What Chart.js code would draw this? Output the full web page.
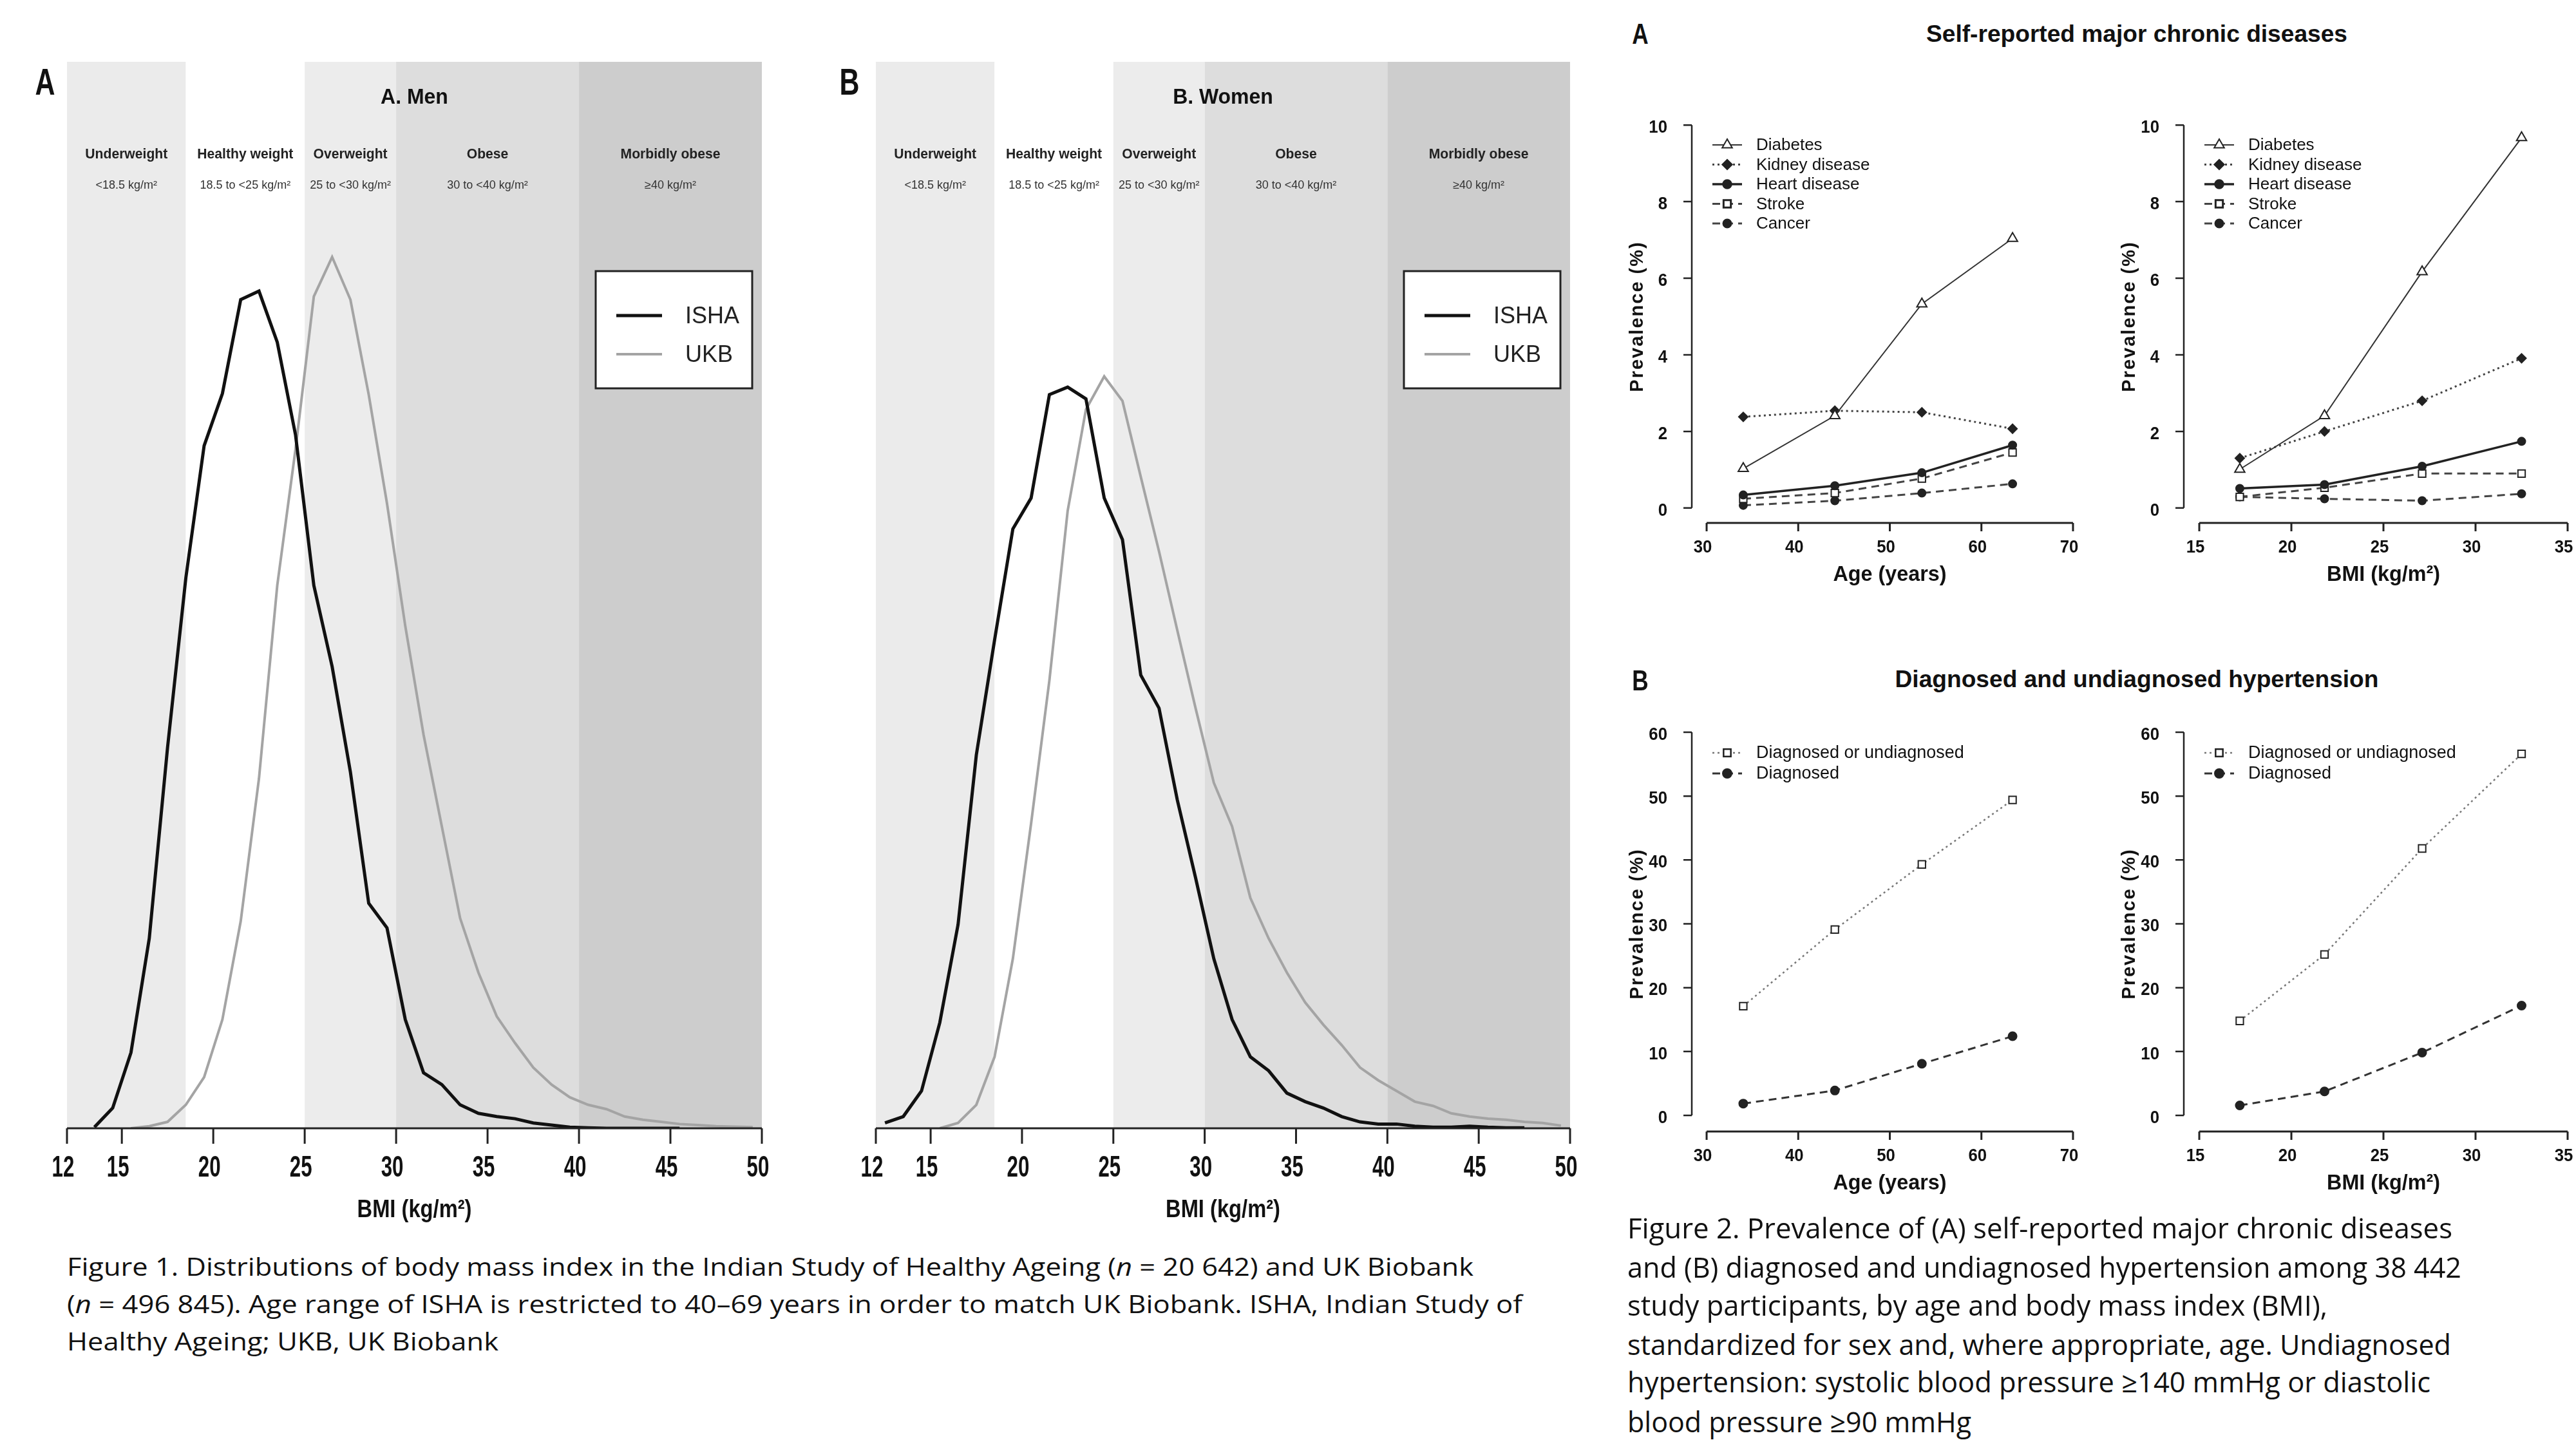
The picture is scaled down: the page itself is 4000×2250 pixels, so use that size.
<!DOCTYPE html>
<html>
<head>
<meta charset="utf-8">
<script src="https://cdn.jsdelivr.net/npm/chart.js@4.4.1/dist/chart.umd.min.js"></script>
<style>
  html, body { margin: 0; padding: 0; background: #fff; }
  #page { position: relative; width: 4000px; height: 2250px; overflow: hidden; background: #fff; }
  canvas { position: absolute; }
  .t { position: absolute; white-space: nowrap; line-height: 1; color: #111; }
</style>
</head>
<body>
<div id="page"></div>
<script>
// ---- Figure 1: BMI distributions (density, arbitrary units, 100 = top of plot) ----
const bmiMid = [12.5, 13.5, 14.5, 15.5, 16.5, 17.5, 18.5, 19.5, 20.5, 21.5, 22.5, 23.5, 24.5,
  25.5, 26.5, 27.5, 28.5, 29.5, 30.5, 31.5, 32.5, 33.5, 34.5, 35.5, 36.5, 37.5, 38.5, 39.5,
  40.5, 41.5, 42.5, 43.5, 44.5, 45.5, 46.5, 47.5, 48.5, 49.5]
const menIsha = [null, 0.1, 1.9, 7.1, 17.8, 35.7, 51.6, 64.0, 68.9, 77.7, 78.5, 73.7, 65.0,
  50.9, 43.3, 33.4, 21.1, 18.8, 10.2, 5.2, 4.1, 2.2, 1.4, 1.1, 0.9, 0.5, 0.3, 0.1,
  0.05, 0, 0, 0, 0, 0, null, null, null, null]
const menUkb = [null, null, null, 0, 0.2, 0.6, 2.2, 4.8, 10.2, 19.4, 32.8, 50.9, 63.7,
  78.0, 81.7, 77.7, 68.8, 58.6, 47.1, 36.9, 28.3, 19.7, 14.6, 10.5, 8.0, 5.7, 4.1, 2.9,
  2.2, 1.8, 1.1, 0.8, 0.6, 0.4, 0.3, 0.2, 0.15, 0.1]
const womenIsha = [0.5, 1.1, 3.5, 9.9, 19.1, 35.0, 45.8, 56.2, 59.1, 68.8, 69.5, 68.4, 59.1,
  55.2, 42.5, 39.4, 30.8, 23.5, 15.9, 10.2, 6.7, 5.4, 3.3, 2.5, 1.9, 1.1, 0.6, 0.4,
  0.4, 0.2, 0.1, 0.1, 0.2, 0.1, 0.05, 0.05, null, null]
const womenUkb = [null, null, null, 0, 0.5, 2.2, 6.7, 15.9, 28.6, 42.0, 57.9, 67.4, 70.5,
  68.2, 61.1, 54.1, 46.7, 39.4, 32.4, 28.3, 21.6, 17.8, 14.6, 11.8, 9.7, 7.8, 5.7, 4.5,
  3.5, 2.5, 2.1, 1.4, 1.1, 0.9, 0.8, 0.6, 0.5, 0.25]
const bmiTicks = [12, 15, 20, 25, 30, 35, 40, 45, 50]
const bandEdges = [12, 18.5, 25, 30, 40, 50]
const bandNames = ['Underweight', 'Healthy weight', 'Overweight', 'Obese', 'Morbidly obese']
const bandRanges = ['<18.5 kg/m²', '18.5 to <25 kg/m²', '25 to <30 kg/m²', '30 to <40 kg/m²', '≥40 kg/m²']
const bandShades = ['#ebebeb', '#ffffff', '#ececec', '#dddddd', '#cdcdcd']

// ---- Figure 2: prevalence (%) by age group and BMI group ----
const ageMid = [34, 44, 53.5, 63.4]
const bmiGroupMid = [17.2, 21.8, 27.1, 32.5]
const diabetesByAge = [1.03, 2.41, 5.33, 7.04]
const kidneyByAge = [2.38, 2.54, 2.50, 2.07]
const heartByAge = [0.34, 0.58, 0.92, 1.64]
const strokeByAge = [0.24, 0.39, 0.77, 1.45]
const cancerByAge = [0.07, 0.19, 0.39, 0.63]
const diabetesByBmi = [1.01, 2.41, 6.17, 9.67]
const kidneyByBmi = [1.30, 2.00, 2.80, 3.91]
const heartByBmi = [0.51, 0.61, 1.09, 1.74]
const strokeByBmi = [0.29, 0.53, 0.90, 0.90]
const cancerByBmi = [0.29, 0.24, 0.19, 0.37]
const htnAnyByAge = [17.1, 29.1, 39.3, 49.4]
const htnDiagByAge = [1.85, 3.9, 8.1, 12.4]
const htnAnyByBmi = [14.8, 25.2, 41.8, 56.6]
const htnDiagByBmi = [1.56, 3.76, 9.84, 17.2]
const ageTicks = [30, 40, 50, 60, 70]
const bmiGroupTicks = [15, 20, 25, 30, 35]
const prevTicksA = [0, 2, 4, 6, 8, 10]
const prevTicksB = [0, 10, 20, 30, 40, 50, 60]

const SANS = "'Liberation Sans', Arial, Helvetica, sans-serif"
const page = document.getElementById('page')

const pairs = (xs, ys) => xs.map((x, i) => ({x: x, y: ys[i]}))

// text with optional horizontal squeeze
function txt(ctx, s, x, y, font, align, sx, color) {
  ctx.save()
  ctx.font = font
  ctx.fillStyle = color || '#111'
  ctx.textAlign = align || 'center'
  ctx.textBaseline = 'middle'
  ctx.translate(x, y)
  ctx.scale(sx || 1, 1)
  ctx.fillText(s, 0, 0)
  ctx.restore()
}

function makeCanvas(b) {
  const cv = document.createElement('canvas')
  cv.width = b.w
  cv.height = b.h
  cv.style.left = b.x + 'px'
  cv.style.top = b.y + 'px'
  page.appendChild(cv)
  return cv
}

// padding so that the chart area lands on page rectangle a
const padFor = (b, a) => ({left: a.l - b.x, top: a.t - b.y, right: b.x + b.w - a.r, bottom: b.y + b.h - a.b})

// html label; anchor 'c' = centred, 'l' = left; width squeezes/stretches to a target width
function label(html, x, y, font, anchor, width, sx) {
  const d = document.createElement('div')
  d.className = 't'
  d.innerHTML = html
  d.style.font = font
  d.style.left = x + 'px'
  d.style.top = y + 'px'
  page.appendChild(d)
  let s = sx || 1
  if (width) s = width / d.getBoundingClientRect().width
  if (anchor === 'l') {
    d.style.transformOrigin = '0 50%'
    d.style.transform = 'translate(0,-50%) scaleX(' + s + ')'
  } else {
    d.style.transformOrigin = '50% 50%'
    d.style.transform = 'translate(-50%,-50%) scaleX(' + s + ')'
  }
}

const bmiBands = {
  id: 'bmiBands',
  beforeDatasetsDraw(chart, args, o) {
    const {ctx, chartArea: a, scales: {x}} = chart
    for (let i = 0; i < bandNames.length; i++) {
      const x0 = x.getPixelForValue(bandEdges[i])
      const x1 = x.getPixelForValue(bandEdges[i + 1])
      ctx.fillStyle = bandShades[i]
      ctx.fillRect(x0, a.top, x1 - x0, a.bottom - a.top)
      const cx = (x0 + x1) / 2
      txt(ctx, bandNames[i], cx, a.top + 144, 'bold 22px ' + SANS, 'center', 0.96, '#222')
      txt(ctx, bandRanges[i], cx, a.top + 192, '18px ' + SANS, 'center', 1, '#333')
    }
    txt(ctx, o.title, (a.left + a.right) / 2, a.top + 56, 'bold 34px ' + SANS, 'center', 0.94, '#111')
  },
  afterDatasetsDraw(chart) {
    const {ctx, chartArea: a, scales: {x}} = chart
    // legend box
    const lx = a.right - 15 - 243, ly = a.top + 325
    ctx.save()
    ctx.fillStyle = '#fff'
    ctx.fillRect(lx, ly, 243, 182)
    ctx.strokeStyle = '#222'
    ctx.lineWidth = 3
    ctx.strokeRect(lx, ly, 243, 182)
    chart.data.datasets.forEach((ds, i) => {
      const yy = ly + 69 + i * 60
      ctx.strokeStyle = ds.borderColor
      ctx.lineWidth = ds.borderWidth
      ctx.beginPath()
      ctx.moveTo(lx + 32, yy)
      ctx.lineTo(lx + 103, yy)
      ctx.stroke()
      txt(ctx, ds.label, lx + 139, yy + 2, '36px ' + SANS, 'left', 1, '#222')
    })
    // x axis
    ctx.strokeStyle = '#222'
    ctx.lineWidth = 3
    ctx.beginPath()
    ctx.moveTo(x.getPixelForValue(bmiTicks[0]), a.bottom)
    ctx.lineTo(x.getPixelForValue(bmiTicks[bmiTicks.length - 1]), a.bottom)
    bmiTicks.forEach(t => {
      const p = x.getPixelForValue(t)
      ctx.moveTo(p, a.bottom)
      ctx.lineTo(p, a.bottom + 24)
    })
    ctx.stroke()
    ctx.restore()
    bmiTicks.forEach(t => txt(ctx, String(t), x.getPixelForValue(t) - 6, a.bottom + 62, 'bold 46px ' + SANS, 'center', 0.68, '#111'))
    txt(ctx, 'BMI (kg/m²)', (a.left + a.right) / 2, a.bottom + 128, 'bold 38px ' + SANS, 'center', 0.86, '#111')
  }
}

function densityChart(b, a, title, isha, ukb) {
  return new Chart(makeCanvas(b), {
    type: 'line',
    data: {
      datasets: [
        {label: 'ISHA', data: pairs(bmiMid, isha), borderColor: '#111', borderWidth: 5, pointRadius: 0, tension: 0},
        {label: 'UKB', data: pairs(bmiMid, ukb), borderColor: '#a4a4a4', borderWidth: 4, pointRadius: 0, tension: 0}
      ]
    },
    options: {
      responsive: false, animation: false, devicePixelRatio: 1,
      layout: {padding: padFor(b, a)},
      scales: {
        x: {type: 'linear', display: false, min: bandEdges[0], max: bandEdges[bandEdges.length - 1]},
        y: {type: 'linear', display: false, min: 0, max: 100}
      },
      plugins: {legend: {display: false}, tooltip: {enabled: false}, bmiBands: {title: title}}
    },
    plugins: [bmiBands]
  })
}

densityChart({x: 0, y: 60, w: 1250, h: 1880}, {l: 104, t: 96, r: 1183, b: 1752}, 'A. Men', menIsha, menUkb)
densityChart({x: 1250, y: 60, w: 1250, h: 1880}, {l: 1360, t: 96, r: 2438, b: 1752}, 'B. Women', womenIsha, womenUkb)

// R-style detached axes + legend
const rAxes = {
  id: 'rAxes',
  afterDraw(chart, args, o) {
    const {ctx, chartArea: a, scales: {x, y}} = chart
    ctx.save()
    ctx.strokeStyle = '#222'
    const yBot = y.getPixelForValue(o.yTicks[0])
    const yTop = y.getPixelForValue(o.yTicks[o.yTicks.length - 1])
    ctx.lineWidth = 2.5
    ctx.beginPath()
    ctx.moveTo(a.left, yBot)
    ctx.lineTo(a.left, yTop)
    o.yTicks.forEach(t => {
      const p = y.getPixelForValue(t)
      ctx.moveTo(a.left, p)
      ctx.lineTo(a.left - 13, p)
    })
    ctx.stroke()
    o.yTicks.forEach(t => txt(ctx, String(t), a.left - 38, y.getPixelForValue(t) + 4, 'bold 28px ' + SANS, 'right', 0.92, '#111'))
    const x0 = x.getPixelForValue(o.xTicks[0])
    const x1 = x.getPixelForValue(o.xTicks[o.xTicks.length - 1])
    ctx.lineWidth = 3
    ctx.beginPath()
    ctx.moveTo(x0, a.bottom)
    ctx.lineTo(x1, a.bottom)
    o.xTicks.forEach(t => {
      const p = x.getPixelForValue(t)
      ctx.moveTo(p, a.bottom)
      ctx.lineTo(p, a.bottom + 13)
    })
    ctx.stroke()
    o.xTicks.forEach(t => txt(ctx, String(t), x.getPixelForValue(t) - 6, a.bottom + 38, 'bold 28px ' + SANS, 'center', 0.92, '#111'))
    txt(ctx, o.xTitle, (x0 + x1) / 2, a.bottom + 81, 'bold 34px ' + SANS, 'center', 0.95, '#111')
    ctx.save()
    ctx.translate(a.left - 84, (yTop + yBot) / 2)
    ctx.rotate(-Math.PI / 2)
    ctx.font = 'bold 29px ' + SANS
    ctx.letterSpacing = '2px'
    ctx.fillStyle = '#111'
    ctx.textAlign = 'center'
    ctx.textBaseline = 'middle'
    ctx.fillText('Prevalence (%)', 0, 0)
    ctx.restore()
    // legend
    chart.data.datasets.forEach((ds, i) => {
      const lx = a.left + 32, ly = a.top + o.legendTop + i * o.legendStep
      ctx.save()
      ctx.strokeStyle = ds.borderColor
      ctx.lineWidth = ds.borderWidth
      ctx.setLineDash(ds.borderDash || [])
      ctx.beginPath()
      ctx.moveTo(lx, ly)
      ctx.lineTo(lx + 46, ly)
      ctx.stroke()
      ctx.setLineDash([])
      ctx.fillStyle = ds.pointBackgroundColor
      ctx.strokeStyle = ds.pointBorderColor
      Chart.helpers.drawPoint(ctx, {pointStyle: ds.pointStyle, rotation: 0, radius: ds.pointRadius, borderWidth: ds.pointBorderWidth}, lx + 23, ly)
      ctx.restore()
      txt(ctx, ds.label, lx + 68, ly + 1, o.legendFont, 'left', 1, '#111')
    })
    ctx.restore()
  }
}

const ink = '#222'
function series(label, data, style) {
  return Object.assign({
    label: label, data: data, borderColor: ink, borderWidth: 3, tension: 0,
    pointBackgroundColor: ink, pointBorderColor: ink, pointBorderWidth: 2, pointRadius: 6, pointStyle: 'circle'
  }, style)
}

function diseaseSets(xs, dia, kid, hea, str, can) {
  return [
    series('Diabetes', pairs(xs, dia), {borderColor: '#333', borderWidth: 2, pointStyle: 'triangle', pointRadius: 9, pointBackgroundColor: '#fff'}),
    series('Kidney disease', pairs(xs, kid), {borderColor: '#444', borderDash: [3, 5], pointStyle: 'rectRot', pointRadius: 7}),
    series('Heart disease', pairs(xs, hea), {borderWidth: 3.5, pointRadius: 6}),
    series('Stroke', pairs(xs, str), {borderColor: '#444', borderDash: [12, 8], pointStyle: 'rect', pointRadius: 8, pointBackgroundColor: '#fff'}),
    series('Cancer', pairs(xs, can), {borderColor: '#444', borderDash: [12, 8], pointRadius: 6})
  ]
}

function htnSets(xs, any, diag) {
  return [
    series('Diagnosed or undiagnosed', pairs(xs, any), {borderColor: '#777', borderWidth: 2.5, borderDash: [3, 5], pointStyle: 'rect', pointRadius: 8, pointBackgroundColor: '#fff'}),
    series('Diagnosed', pairs(xs, diag), {borderColor: '#333', borderDash: [12, 8], pointRadius: 6.5})
  ]
}

function prevChart(b, a, sets, xr, yr, xTicks, yTicks, xTitle, legendTop, legendStep, legendFont) {
  return new Chart(makeCanvas(b), {
    type: 'line',
    data: {datasets: sets},
    options: {
      responsive: false, animation: false, devicePixelRatio: 1,
      layout: {padding: padFor(b, a)},
      scales: {
        x: {type: 'linear', display: false, min: xr[0], max: xr[1]},
        y: {type: 'linear', display: false, min: yr[0], max: yr[1]}
      },
      plugins: {
        legend: {display: false}, tooltip: {enabled: false},
        rAxes: {xTicks: xTicks, yTicks: yTicks, xTitle: xTitle, legendTop: legendTop, legendStep: legendStep, legendFont: legendFont}
      }
    },
    plugins: [rAxes]
  })
}

const legA = '26px ' + SANS, legB = '27px ' + SANS
prevChart({x: 2500, y: 140, w: 790, h: 800}, {l: 2627, t: 171, r: 3242, b: 812},
  diseaseSets(ageMid, diabetesByAge, kidneyByAge, heartByAge, strokeByAge, cancerByAge),
  [28.38, 71.62], [-0.39, 10.39], ageTicks, prevTicksA, 'Age (years)', 54, 30.5, legA)
prevChart({x: 3285, y: 140, w: 715, h: 800}, {l: 3391, t: 171, r: 3987, b: 812},
  diseaseSets(bmiGroupMid, diabetesByBmi, kidneyByBmi, heartByBmi, strokeByBmi, cancerByBmi),
  [14.16, 35], [-0.39, 10.39], bmiGroupTicks, prevTicksA, 'BMI (kg/m²)', 54, 30.5, legA)
prevChart({x: 2500, y: 1080, w: 790, h: 800}, {l: 2627, t: 1112, r: 3242, b: 1757},
  htnSets(ageMid, htnAnyByAge, htnDiagByAge),
  [28.38, 71.62], [-2.52, 62.52], ageTicks, prevTicksB, 'Age (years)', 57, 32, legB)
prevChart({x: 3285, y: 1080, w: 715, h: 800}, {l: 3391, t: 1112, r: 3987, b: 1757},
  htnSets(bmiGroupMid, htnAnyByBmi, htnDiagByBmi),
  [14.16, 35], [-2.52, 62.52], bmiGroupTicks, prevTicksB, 'BMI (kg/m²)', 57, 32, legB)

// panel letters and titles
const BOLD = 'bold 58px ' + SANS
label('A', 70, 126, BOLD, 'c', null, 0.74)
label('B', 1319, 126, BOLD, 'c', null, 0.74)
label('A', 2547, 53, 'bold 44px ' + SANS, 'c', null, 0.8)
label('B', 2547, 1057, 'bold 44px ' + SANS, 'c', null, 0.8)
label('Self-reported major chronic diseases', 3318, 53, 'bold 36px ' + SANS, 'c', 654)
label('Diagnosed and undiagnosed hypertension', 3318, 1055, 'bold 36px ' + SANS, 'c', 751)

// captions
const CAP1 = "38px 'Open Sans', 'Noto Sans', sans-serif"
const CAP2 = "44px 'Open Sans', 'Noto Sans', sans-serif"
label('Figure 1. Distributions of body mass index in the Indian Study of Healthy Ageing (<i>n</i> = 20 642) and UK Biobank', 104, 1966, CAP1, 'l', 2184)
label('(<i>n</i> = 496 845). Age range of ISHA is restricted to 40–69 years in order to match UK Biobank. ISHA, Indian Study of', 104, 2024, CAP1, 'l', 2260)
label('Healthy Ageing; UKB, UK Biobank', 104, 2082, CAP1, 'l', 670)
label('Figure 2. Prevalence of (A) self-reported major chronic diseases', 2527, 1906, CAP2, 'l', 1281)
label('and (B) diagnosed and undiagnosed hypertension among 38 442', 2527, 1967, CAP2, 'l', 1295)
label('study participants, by age and body mass index (BMI),', 2527, 2026, CAP2, 'l', 1087)
label('standardized for sex and, where appropriate, age. Undiagnosed', 2527, 2087, CAP2, 'l', 1279)
label('hypertension: systolic blood pressure ≥140 mmHg or diastolic', 2527, 2145, CAP2, 'l', 1247)
label('blood pressure ≥90 mmHg', 2527, 2207, CAP2, 'l', 534)
</script>
</body>
</html>
